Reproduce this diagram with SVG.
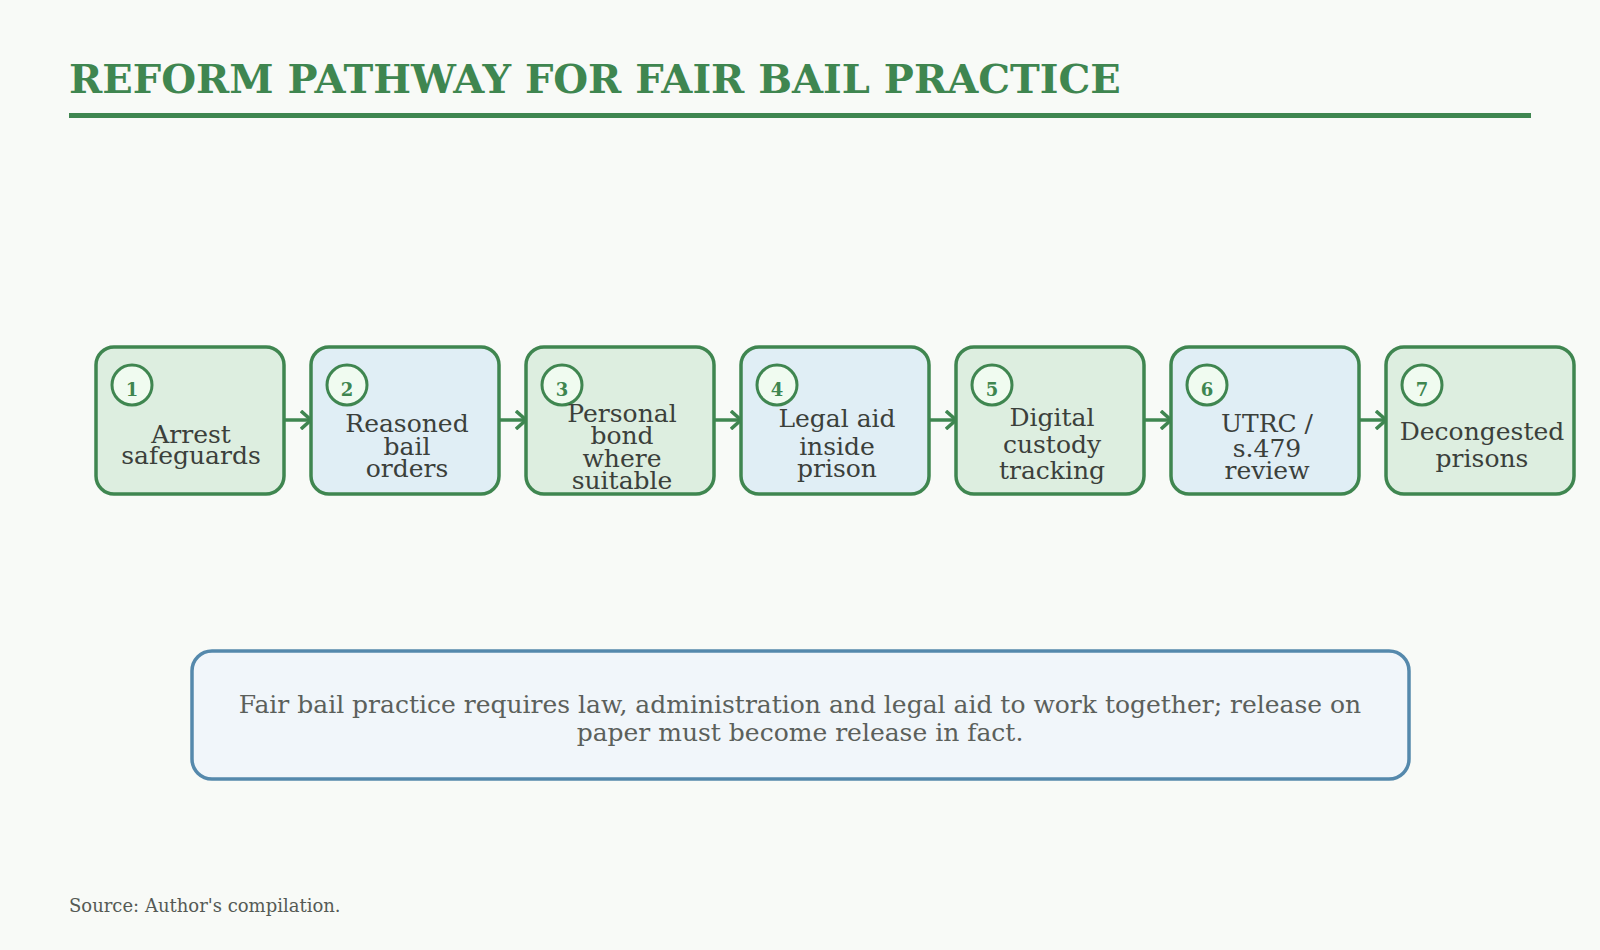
<svg xmlns="http://www.w3.org/2000/svg" width="1600" height="950" viewBox="0 0 1600 950">
<defs>
<style>
.bg{fill:#f8faf7}
.title{font-family:"DejaVu Serif",serif;font-weight:bold;font-size:40px;fill:#3f8650}
.box{stroke:#3f8650;stroke-width:3.5}
.g{fill:#ddeee0}
.b{fill:#e0eef5}
.circ{fill:#f0fbf0;stroke:#3f8650;stroke-width:3}
.num{font-family:"DejaVu Serif",serif;font-weight:bold;font-size:18px;fill:#3f8650;text-anchor:middle}
.lbl{font-family:"DejaVu Serif",serif;font-size:25px;fill:#3b403b;text-anchor:middle}
.conn{stroke:#3f8650;stroke-width:3.5;fill:none}
.note{fill:#f1f6fa;stroke:#5589ac;stroke-width:3.5}
.notet{font-family:"DejaVu Serif",serif;font-size:25px;fill:#5b605b;text-anchor:middle}
.src{font-family:"DejaVu Serif",serif;font-size:18px;fill:#555a55}
</style>
<marker id="ah" viewBox="0 0 12 20" refX="11" refY="10" markerWidth="12" markerHeight="20" markerUnits="userSpaceOnUse" orient="auto">
<path d="M1,1 L11,10 L1,19" fill="none" stroke="#3f8650" stroke-width="3.5"/>
</marker>
</defs>
<rect class="bg" x="0" y="0" width="1600" height="950"/>
<g id="title">
<text class="title" x="69" y="93">REFORM PATHWAY FOR FAIR BAIL PRACTICE</text>
<rect x="69" y="113" width="1462" height="5" fill="#3f8650"/>
</g>
<g id="connectors">
<line class="conn" x1="284" y1="420" x2="311" y2="420" marker-end="url(#ah)"/>
<line class="conn" x1="499" y1="420" x2="526" y2="420" marker-end="url(#ah)"/>
<line class="conn" x1="714" y1="420" x2="741" y2="420" marker-end="url(#ah)"/>
<line class="conn" x1="929" y1="420" x2="956" y2="420" marker-end="url(#ah)"/>
<line class="conn" x1="1144" y1="420" x2="1171" y2="420" marker-end="url(#ah)"/>
<line class="conn" x1="1359" y1="420" x2="1386" y2="420" marker-end="url(#ah)"/>
</g>
<g id="node1">
<rect class="box g" x="96" y="347" width="188" height="147" rx="18"/>
<circle class="circ" cx="132" cy="385" r="20"/>
<text class="num" x="132" y="396">1</text>
<text class="lbl"><tspan x="191" y="443">Arrest</tspan><tspan x="191" y="464">safeguards</tspan></text>
</g>
<g id="node2">
<rect class="box b" x="311" y="347" width="188" height="147" rx="18"/>
<circle class="circ" cx="347" cy="385" r="20"/>
<text class="num" x="347" y="396">2</text>
<text class="lbl"><tspan x="407" y="432">Reasoned</tspan><tspan x="407" y="455">bail</tspan><tspan x="407" y="477">orders</tspan></text>
</g>
<g id="node3">
<rect class="box g" x="526" y="347" width="188" height="147" rx="18"/>
<circle class="circ" cx="562" cy="385" r="20"/>
<text class="num" x="562" y="396">3</text>
<text class="lbl"><tspan x="622" y="422">Personal</tspan><tspan x="622" y="444">bond</tspan><tspan x="622" y="467">where</tspan><tspan x="622" y="489">suitable</tspan></text>
</g>
<g id="node4">
<rect class="box b" x="741" y="347" width="188" height="147" rx="18"/>
<circle class="circ" cx="777" cy="385" r="20"/>
<text class="num" x="777" y="396">4</text>
<text class="lbl"><tspan x="837" y="427">Legal aid</tspan><tspan x="837" y="455">inside</tspan><tspan x="837" y="477">prison</tspan></text>
</g>
<g id="node5">
<rect class="box g" x="956" y="347" width="188" height="147" rx="18"/>
<circle class="circ" cx="992" cy="385" r="20"/>
<text class="num" x="992" y="396">5</text>
<text class="lbl"><tspan x="1052" y="426">Digital</tspan><tspan x="1052" y="453">custody</tspan><tspan x="1052" y="479">tracking</tspan></text>
</g>
<g id="node6">
<rect class="box b" x="1171" y="347" width="188" height="147" rx="18"/>
<circle class="circ" cx="1207" cy="385" r="20"/>
<text class="num" x="1207" y="396">6</text>
<text class="lbl"><tspan x="1267" y="432">UTRC /</tspan><tspan x="1267" y="457">s.479</tspan><tspan x="1267" y="479">review</tspan></text>
</g>
<g id="node7">
<rect class="box g" x="1386" y="347" width="188" height="147" rx="18"/>
<circle class="circ" cx="1422" cy="385" r="20"/>
<text class="num" x="1422" y="396">7</text>
<text class="lbl"><tspan x="1482" y="440">Decongested</tspan><tspan x="1482" y="467">prisons</tspan></text>
</g>
<g id="note">
<rect class="note" x="192" y="651" width="1217" height="128" rx="20"/>
<text class="notet"><tspan x="800" y="713">Fair bail practice requires law, administration and legal aid to work together; release on</tspan><tspan x="800" y="741">paper must become release in fact.</tspan></text>
</g>
<g id="source">
<text class="src" x="69" y="912">Source: Author's compilation.</text>
</g>
</svg>
